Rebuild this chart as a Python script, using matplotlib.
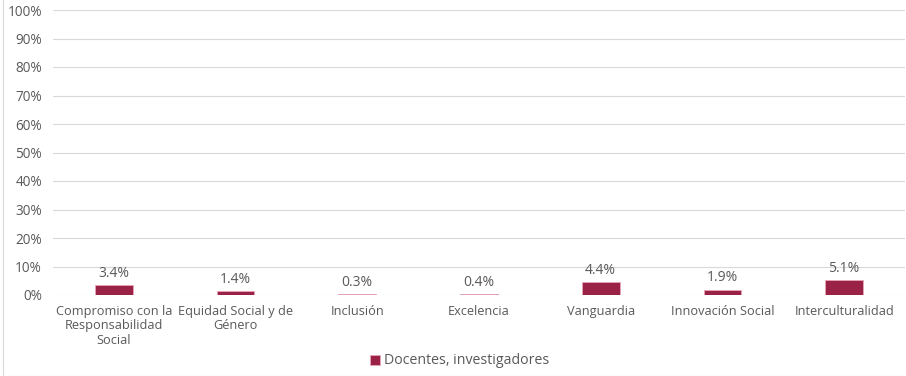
import matplotlib.pyplot as plt
from matplotlib.patches import Rectangle
from matplotlib.ticker import PercentFormatter

categories = ["Compromiso con la\nResponsabilidad\nSocial", "Equidad Social y de\nGénero", "Inclusión",
              "Excelencia", "Vanguardia", "Innovación Social", "Interculturalidad"]
values = [3.4, 1.4, 0.3, 0.4, 4.4, 1.9, 5.1]
series_name = "Docentes, investigadores"

plt.rcParams['font.family'] = ['Open Sans', 'DejaVu Sans']
text_color = "#595959"
bar_color = "#9B2247"

fig = plt.figure(figsize=(9.06, 3.76), dpi=100)
ax = fig.add_axes([53 / 906, 1 - 295 / 376, 852 / 906, 285 / 376])

x = range(len(categories))
bars = ax.bar(x, values, width=0.31, color=bar_color, edgecolor="#e8a6b8", linewidth=0.6,
              label=series_name, zorder=3)
for xi, v in zip(x, values):
    ax.annotate(f"{v:.1f}%", (xi, v), xytext=(0, 3), textcoords="offset points",
                ha="center", va="bottom", fontsize=10, color=text_color)

ax.set_ylim(0, 100)
ax.set_xlim(-0.5, len(categories) - 0.5)
ax.set_yticks(range(0, 101, 10))
ax.yaxis.set_major_formatter(PercentFormatter(decimals=0))
ax.grid(axis="y", color="#d9d9d9", linewidth=0.8, zorder=0)
for s in ax.spines.values():
    s.set_visible(False)
ax.tick_params(axis="both", length=0, colors=text_color)
ax.tick_params(axis="y", pad=8, labelsize=9.8)
ax.tick_params(axis="x", pad=7)
ax.set_xticks(list(x))
ax.set_xticklabels(categories, fontsize=9.2, color=text_color, linespacing=1.15)

fig.legend(handles=[bars], labels=[series_name], loc="center", bbox_to_anchor=(460 / 906, 1 - 361 / 376),
           frameon=False, fontsize=10.2, handlelength=0.7, handleheight=0.7, handletextpad=0.3,
           labelcolor=text_color)

fig.patches.append(Rectangle((3 / 906, 0), 1, 1.2, transform=fig.transFigure, fill=False,
                             edgecolor="#d9d9d9", linewidth=0.8))

fig.savefig("out.png", dpi=100)
